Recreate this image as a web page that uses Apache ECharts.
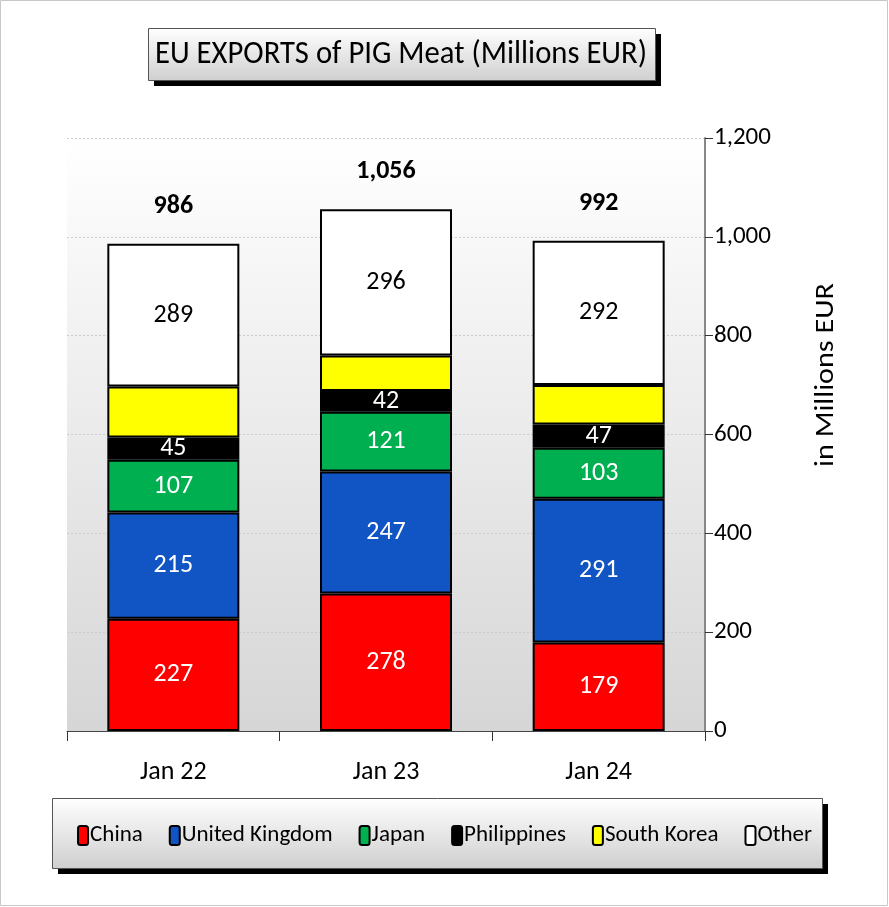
<!DOCTYPE html>
<html><head><meta charset="utf-8">
<script src="https://cdn.jsdelivr.net/npm/echarts@6/dist/echarts.min.js"></script>
<style>html,body{margin:0;padding:0;background:#fff}#c{width:889px;height:907px}</style>
</head><body><div id="c"></div>
<script>
const categories = ['Jan 22', 'Jan 23', 'Jan 24'];
const china = [227, 278, 179];
const uk = [215, 247, 291];
const japan = [107, 121, 103];
const philippines = [45, 42, 47];
const southKorea = [103, 72, 80];
const other = [289, 296, 292];
const totals = [986, 1056, 992];
const yTicks = [0, 200, 400, 600, 800, 1000, 1200];

const FONT = "Carlito, 'Liberation Sans Narrow', 'Open Sans', sans-serif";
const chart = echarts.init(document.getElementById('c'));

function mk(name, data, color, labelColor, showLabel) {
  return {
    name, type: 'bar', stack: 'a', data, barWidth: 132,
    itemStyle: { color, borderColor: '#000', borderWidth: 2 },
    label: { show: showLabel, position: 'inside', color: labelColor, fontFamily: FONT, fontSize: 26 }
  };
}
const grad = (a, b) => new echarts.graphic.LinearGradient(0, 0, 0, 1, [{offset: 0, color: a}, {offset: 1, color: b}]);

chart.setOption({
  backgroundColor: '#fff',
  animation: false,
  textStyle: { fontFamily: FONT },
  grid: { left: 67, right: 184, top: 138, bottom: 176, show: true, borderWidth: 0,
    backgroundColor: grad('#ffffff', '#d6d6d6') },
  graphic: [
    { type: 'rect', shape: { x: 0.5, y: 0.5, width: 887, height: 905 }, style: { fill: 'none', stroke: '#c8c8c8', lineWidth: 1 }, z: -10 },
    { type: 'rect', shape: { x: 154, y: 34, width: 507, height: 52 }, style: { fill: '#000' }, z: -5 },
    { type: 'rect', shape: { x: 148.5, y: 28.5, width: 507, height: 52 }, style: { fill: grad('#ffffff', '#cfcfcf'), stroke: '#555', lineWidth: 1 }, z: -4 },
    { type: 'text', x: 401, y: 55, scaleX: 0.93, style: { text: 'EU EXPORTS of PIG Meat (Millions EUR)', align: 'center', verticalAlign: 'middle', font: '33px ' + FONT, fill: '#000' }, z: -3 },
    { type: 'text', x: 826, y: 375, rotation: Math.PI / 2, scaleX: 1.16, style: { text: 'in Millions EUR', align: 'center', verticalAlign: 'middle', font: '26px ' + FONT, fill: '#000' } },
    { type: 'rect', shape: { x: 58, y: 804, width: 770, height: 70 }, style: { fill: '#000' }, z: -5 },
    { type: 'rect', shape: { x: 52.5, y: 798.5, width: 770, height: 70 }, style: { fill: grad('#ffffff', '#cfcfcf'), stroke: '#555', lineWidth: 1 }, z: -4 }
  ],
  legend: {
    data: ['China', 'United Kingdom', 'Japan', 'Philippines', 'South Korea', 'Other'],
    left: 'center', top: 819, itemWidth: 10, itemHeight: 19, itemGap: 26, icon: 'roundRect',
    textStyle: { fontFamily: FONT, fontSize: 23, color: '#000', padding: [0, 0, 0, -3] },
    z: 10
  },
  xAxis: {
    type: 'category', data: categories,
    axisLine: { lineStyle: { color: '#444', width: 1 } },
    axisTick: { show: true, length: 10, lineStyle: { color: '#333' } },
    axisLabel: { fontFamily: FONT, fontSize: 26, color: '#000', margin: 28 }
  },
  yAxis: {
    type: 'value', position: 'right', min: 0, max: 1200, interval: 200,
    axisLine: { show: true, lineStyle: { color: '#888', width: 2 } },
    axisTick: { show: true, length: 8, lineStyle: { color: '#333' } },
    axisLabel: { fontFamily: FONT, fontSize: 25, color: '#000', margin: 9,
      formatter: v => v.toLocaleString('en-US') },
    splitLine: { lineStyle: { color: '#ccc', type: [2, 2] } }
  },
  series: [
    mk('China', china, '#ff0000', '#fff', true),
    mk('United Kingdom', uk, '#1155c4', '#fff', true),
    mk('Japan', japan, '#00b050', '#fff', true),
    mk('Philippines', philippines, '#000000', '#fff', true),
    mk('South Korea', southKorea, '#ffff00', '#000', false),
    mk('Other', other, '#ffffff', '#000', true),
    { name: 'Total', type: 'line', data: totals, symbol: 'circle', symbolSize: 1,
      itemStyle: { color: 'rgba(0,0,0,0)' }, lineStyle: { width: 0, color: 'rgba(0,0,0,0)' },
      label: { show: true, position: 'top', distance: 24, fontFamily: FONT, fontSize: 26, fontWeight: 'bold', color: '#000',
        formatter: p => p.value.toLocaleString('en-US') } }
  ]
});
</script></body></html>
